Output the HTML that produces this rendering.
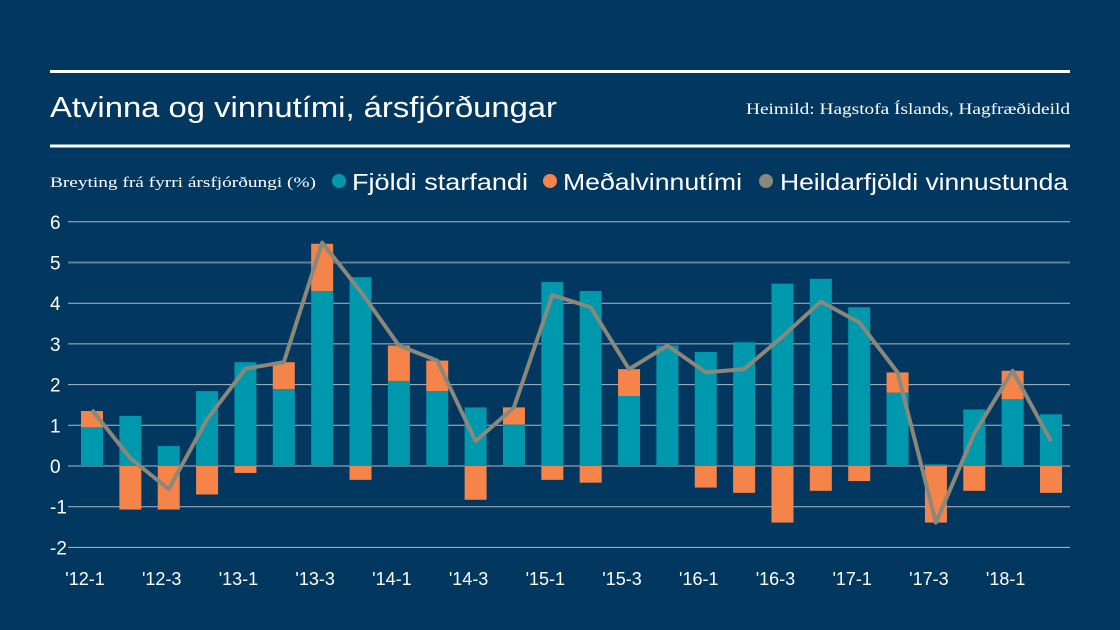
<!DOCTYPE html>
<html><head><meta charset="utf-8"><style>
html,body{margin:0;padding:0;background:#023760;}
svg{display:block;}
</style></head><body>
<svg id="chart" width="1120" height="630" viewBox="0 0 1120 630" xmlns="http://www.w3.org/2000/svg">
<rect width="1120" height="630" fill="#023760"/>
<rect x="50" y="70" width="1020" height="3" fill="#fff"/>
<rect x="50" y="144.5" width="1020" height="3" fill="#fff"/>
<text x="50" y="117" fill="#fff" font-family="Liberation Sans, sans-serif" font-size="29" textLength="507" lengthAdjust="spacingAndGlyphs">Atvinna og vinnutími, ársfjórðungar</text>
<text x="1070" y="114" fill="#fff" text-anchor="end" font-family="Liberation Serif, serif" font-size="16" textLength="324" lengthAdjust="spacingAndGlyphs">Heimild: Hagstofa Íslands, Hagfræðideild</text>
<text x="50" y="187" fill="#fff" font-family="Liberation Serif, serif" font-size="15" textLength="266" lengthAdjust="spacingAndGlyphs">Breyting frá fyrri ársfjórðungi (%)</text>
<g>
<circle cx="339" cy="181" r="7" fill="#0098ad"/>
<text x="352" y="190" fill="#fff" font-family="Liberation Sans, sans-serif" font-size="23" textLength="176" lengthAdjust="spacingAndGlyphs">Fjöldi starfandi</text>
<circle cx="550" cy="181" r="7" fill="#f4844a"/>
<text x="563" y="190" fill="#fff" font-family="Liberation Sans, sans-serif" font-size="23" textLength="179" lengthAdjust="spacingAndGlyphs">Meðalvinnutími</text>
<circle cx="766" cy="181" r="7" fill="#8a887a"/>
<text x="780" y="190" fill="#fff" font-family="Liberation Sans, sans-serif" font-size="23" textLength="288" lengthAdjust="spacingAndGlyphs">Heildarfjöldi vinnustunda</text>
</g>
<g id="grid"></g><g id="bars"></g><g id="line"></g><g id="xlabels"></g>
</svg>
<script>
const categories = ["'12-1","'12-2","'12-3","'12-4","'13-1","'13-2","'13-3","'13-4","'14-1","'14-2","'14-3","'14-4","'15-1","'15-2","'15-3","'15-4","'16-1","'16-2","'16-3","'16-4","'17-1","'17-2","'17-3","'17-4","'18-1","'18-2"];
const employed = [0.95,1.23,0.49,1.84,2.55,1.89,4.30,4.64,2.09,1.84,1.44,1.02,4.52,4.30,1.72,2.96,2.80,3.04,4.48,4.60,3.90,1.80,0.04,1.39,1.64,1.27];
const hours = [0.40,-1.07,-1.07,-0.70,-0.17,0.66,1.16,-0.34,0.87,0.75,-0.83,0.42,-0.34,-0.41,0.66,0,-0.53,-0.66,-1.39,-0.61,-0.37,0.50,-1.39,-0.61,0.70,-0.66];
const total = [1.38,0.19,-0.57,1.15,2.39,2.55,5.49,4.29,2.96,2.59,0.61,1.44,4.20,3.90,2.38,2.96,2.30,2.38,3.18,4.04,3.53,2.30,-1.39,0.80,2.34,0.61];
const yTicks = [-2,-1,0,1,2,3,4,5,6];

const NS="http://www.w3.org/2000/svg";
const y = v => 466 - v*40.7;
const x = i => 92 + i*38.36;
const bw = 22;
function mk(tag, attrs, parent){const e=document.createElementNS(NS,tag);for(const k in attrs)e.setAttribute(k,attrs[k]);parent.appendChild(e);return e;}
const grid=document.getElementById('grid'), bars=document.getElementById('bars'), line=document.getElementById('line'), xl=document.getElementById('xlabels');
yTicks.forEach(t=>{
  const l=mk('line',{x1:68,x2:1070,y1:y(t),y2:y(t),stroke:t===5?'#5f7f9c':'#a9b9c9','stroke-width':t===5?2:1},grid);
  
  
  const tx=mk('text',{x:50,y:y(t)+7,fill:'#fff','font-family':'Liberation Sans, sans-serif','font-size':19},grid);
  tx.textContent=String(t);
  
  
});
categories.forEach((c,i)=>{
  const e=employed[i], h=hours[i];
  const r1=mk('rect',{x:x(i)-bw/2,y:Math.min(y(0),y(e)),width:bw,height:Math.abs(y(e)-y(0)),fill:'#0098ad'},bars);
  
  
  let base = (h>=0 && e>=0) ? e : 0;
  const top=y(base+h), bot=y(base);
  const r2=mk('rect',{x:x(i)-bw/2,y:Math.min(top,bot),width:bw,height:Math.abs(top-bot),fill:'#f4844a'},bars);
  
  
  if(i%2===0){
    const t=mk('text',{x:x(i)-7,y:585,fill:'#fff','text-anchor':'middle','font-family':'Liberation Sans, sans-serif','font-size':18},xl);
    t.textContent=c;
    
    
  }
});
const pts=total.map((v,i)=>x(i)+','+y(v)).join(' ');
const pl=mk('polyline',{points:pts,fill:'none',stroke:'#8a887a','stroke-width':4,'stroke-linejoin':'round'},line);


</script>
</body></html>
